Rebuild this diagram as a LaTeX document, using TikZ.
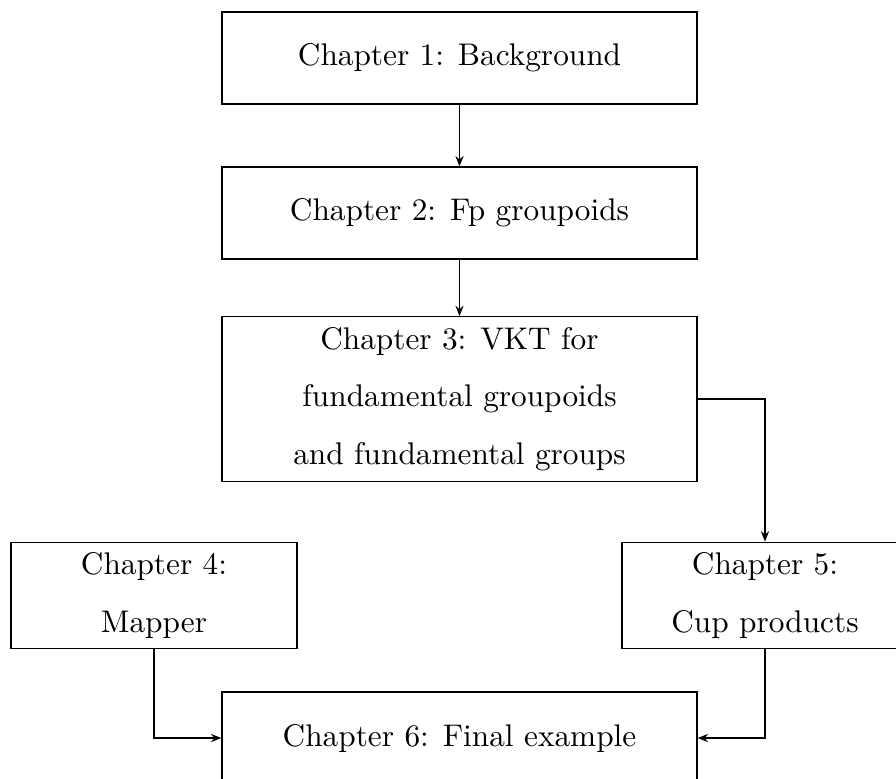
\documentclass[tikz,border=0pt]{standalone}
\usetikzlibrary{arrows.meta}
\begin{document}
\begin{tikzpicture}[x=0.3195pt,y=-0.3195pt,>={Stealth[length=3.3pt,width=2.6pt]},
  chap/.style={draw,align=center,font=\fontsize{10}{18.4}\selectfont,minimum height=29.4pt},
  wide/.style={chap,minimum width=151.8pt},
  short/.style={chap,minimum width=91.4pt}]
  \useasboundingbox (0,0) rectangle (896,778);
  % main column
  \node[wide] (ch1) at (459.5,58) {Chapter 1: Background};
  \node[wide] (ch2) at (459.5,213) {Chapter 2: Fp groupoids};
  \node[wide] (ch3) at (459.5,399) {Chapter 3: VKT for\\fundamental groupoids\\and fundamental groups};
  % side chapters
  \node[short] (ch4) at (154,595.5) {Chapter 4:\\Mapper};
  \node[short] (ch5) at (765,595.5) {Chapter 5:\\Cup products};
  \node[wide] (ch6) at (459.5,738) {Chapter 6: Final example};
  \draw[->] (ch1) -- (ch2);
  \draw[->] (ch2) -- (ch3);
  \draw[->] (ch3.east) -| (ch5.north);
  \draw[->] (ch4.south) |- (ch6.west);
  \draw[->] (ch5.south) |- (ch6.east);
\end{tikzpicture}
\end{document}
